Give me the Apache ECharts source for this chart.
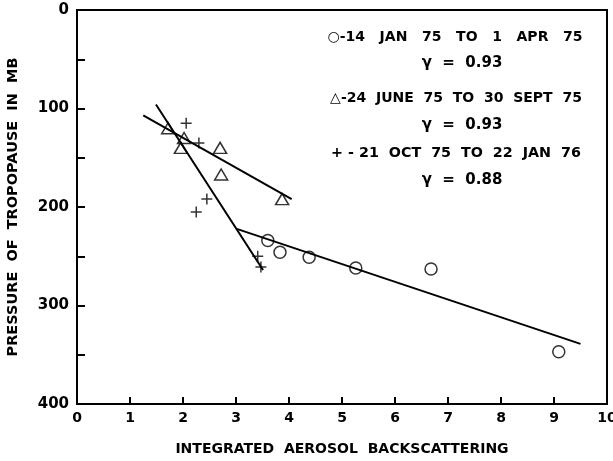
<!DOCTYPE html>
<html lang="en">
<head>
	<meta charset="UTF-8">
	<title>Tropopause</title>
	<style>
		html,body{margin:0;padding:0;background:#fff;}
	</style>
</head>
<body>
	<div id="main" style="width:613px;height:461px;"></div>
<script src="https://cdn.jsdelivr.net/npm/echarts@6/dist/echarts.min.js"></script>
<script>
	// 14 JAN 75 - 1 APR 75 (circles)
	var circleX=[3.60,3.83,4.38,5.26,6.68,9.09];
	var circleY=[234,246,251,262,263,347];
	var circleFitX=[3.0,9.5];
	var circleFitY=[222,339];

	// 24 JUNE 75 - 30 SEPT 75 (triangles)
	var triX=[1.72,2.02,1.96,2.70,2.72,3.87];
	var triY=[120,130,140,140,167,192];
	var triFitX=[1.25,4.05];
	var triFitY=[107,192];

	// 21 OCT 75 - 22 JAN 76 (crosses)
	var crossX=[2.06,2.30,2.45,2.25,3.41,3.47];
	var crossY=[115,135,192,205,250,261];
	var crossFitX=[1.49,3.51];
	var crossFitY=[96,264];

	var legendLines=[
		'○-14   JAN   75   TO   1   APR   75',
		'γ  =  0.93',
		'△-24  JUNE  75  TO  30  SEPT  75',
		'γ  =  0.93',
		'+ - 21  OCT  75  TO  22  JAN  76',
		'γ  =  0.88'
	];

	var xTicks=[0,1,2,3,4,5,6,7,8,9,10];
	var yTicks=[0,100,200,300,400];

	function pairs(xs,ys){
		var out=[];
		for(var i=0;i<xs.length;i++){
			out.push([xs[i],ys[i]]);
		}
		return out;
	}

	var font='"DejaVu Sans", sans-serif';
	var myChart=echarts.init(document.getElementById('main'));

	//图例文字
	var legendY=[37,63,98,125,153,180];
	var legendX=[455,462,456,462,456,462];
	var legendSize=[14,15,14,15,14.3,15];
	var graphics=legendLines.map(function(t,i){
		return {
			type:'text',
			x:legendX[i],
			y:legendY[i],
			style:{
				text:t,
				fill:'#000',
				font:'bold '+legendSize[i]+'px '+font,
				align:'center',
				verticalAlign:'middle'
			}
		};
	});

	var option={
		animation:false,
		backgroundColor:'#fff',
		grid:{
			left:77,
			right:6,
			top:10,
			bottom:57,
			outerBoundsMode:'none',
			containLabel:false,
			show:true,
			borderColor:'#000',
			borderWidth:2
		},
		xAxis:{
			type:'value',
			min:0,
			max:10,
			interval:1,
			name:'INTEGRATED  AEROSOL  BACKSCATTERING',
			nameLocation:'middle',
			nameGap:38,
			nameTextStyle:{color:'#000',fontFamily:font,fontWeight:'bold',fontSize:14},
			axisLine:{onZero:false,lineStyle:{color:'#000',width:2}},
			axisTick:{inside:true,length:7,lineStyle:{color:'#000',width:2}},
			axisLabel:{
				color:'#000',fontFamily:font,fontWeight:'bold',fontSize:14,margin:7,
				formatter:function(v){return xTicks.indexOf(v)>=0?String(v):'';}
			},
			splitLine:{show:false}
		},
		yAxis:{
			type:'value',
			inverse:true,
			min:0,
			max:400,
			interval:100,
			name:'PRESSURE  OF  TROPOPAUSE  IN  MB',
			nameLocation:'middle',
			nameGap:56,
			nameRotate:90,
			nameTextStyle:{color:'#000',fontFamily:font,fontWeight:'bold',fontSize:14.5},
			axisLine:{onZero:false,lineStyle:{color:'#000',width:2}},
			axisTick:{inside:true,length:8,lineStyle:{color:'#000',width:2}},
			minorTick:{show:true,splitNumber:2,length:8,lineStyle:{color:'#000',width:2}},
			axisLabel:{
				color:'#000',fontFamily:font,fontWeight:'bold',fontSize:15,margin:8,
				formatter:function(v){return yTicks.indexOf(v)>=0?String(v):'';}
			},
			splitLine:{show:false}
		},
		graphic:graphics,
		series:[
			{
				type:'line',
				data:pairs(circleFitX,circleFitY),
				symbol:'none',
				lineStyle:{color:'#000',width:2},
				z:2
			},
			{
				type:'line',
				data:pairs(triFitX,triFitY),
				symbol:'none',
				lineStyle:{color:'#000',width:2},
				z:2
			},
			{
				type:'line',
				data:pairs(crossFitX,crossFitY),
				symbol:'none',
				lineStyle:{color:'#000',width:2},
				z:2
			},
			{
				type:'scatter',
				data:pairs(circleX,circleY),
				symbol:'circle',
				symbolSize:12,
				itemStyle:{color:'transparent',borderColor:'#000',borderWidth:1.5},
				z:3
			},
			{
				type:'scatter',
				data:pairs(triX,triY),
				symbol:'triangle',
				symbolSize:[13,11],
				itemStyle:{color:'transparent',borderColor:'#000',borderWidth:1.5},
				z:3
			},
			{
				type:'scatter',
				data:pairs(crossX,crossY),
				symbol:'path://M0,-6L0,6M-6,0L6,0',
				symbolSize:11,
				itemStyle:{color:'transparent',borderColor:'#000',borderWidth:1.5},
				z:3
			}
		]
	};
	myChart.setOption(option);
</script>
</body>
</html>
